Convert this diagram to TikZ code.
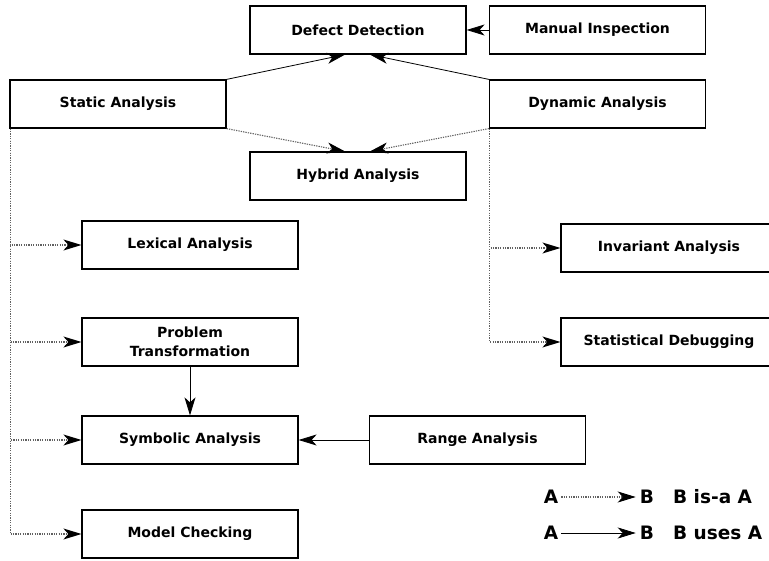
\documentclass[tikz,border=0pt]{standalone}
\usepackage{fontspec}
\setmainfont{DejaVu Sans}
\usetikzlibrary{arrows.meta}
\begin{document}
\begin{tikzpicture}[x=1pt,y=-1pt,
  box/.style={draw,line width=1.2pt,minimum width=216pt,minimum height=48pt,inner sep=0pt,font=\fontsize{14}{19}\selectfont\bfseries,align=center},
  tip/.style={-{Stealth[length=18pt,width=11pt,inset=5pt]}},
  uses/.style={tip,line width=0.8pt},
  isa/.style={line width=1.1pt,dash pattern=on 1.3pt off 1.1pt,draw=black!62,-{Stealth[length=18pt,width=11pt,inset=5pt,black]}},
  lg/.style={font=\fontsize{18.5}{21}\selectfont\bfseries,inner sep=0pt}]
\useasboundingbox (0,0) rectangle (769,561);
\node[box] (dd) at (358,30) {Defect Detection};
\node[box] (mi) at (597.5,30) {Manual Inspection};
\node[box] (sa) at (118,104) {Static Analysis};
\node[box] (da) at (597.5,104) {Dynamic Analysis};
\node[box] (ha) at (358,176) {Hybrid Analysis};
\node[box] (la) at (190,245) {Lexical Analysis};
\node[box] (ia) at (669,248) {Invariant Analysis};
\node[box] (pt) at (190,342) {Problem\\Transformation};
\node[box] (sd) at (669,342) {Statistical Debugging};
\node[box] (sy) at (190,440) {Symbolic Analysis};
\node[box] (ra) at (477.5,440) {Range Analysis};
\node[box] (mc) at (190,534) {Model Checking};
% uses
\draw[uses] (mi) -- (dd);
\draw[uses] (sa.north east) -- ([xshift=-13pt]dd.south);
\draw[uses] (da.north west) -- ([xshift=12pt]dd.south);
\draw[uses] (pt) -- (sy);
\draw[uses] (ra) -- (sy);
% is-a
\draw[isa] (sa.south east) -- ([xshift=-13pt]ha.north);
\draw[isa] (da.south west) -- ([xshift=12pt]ha.north);
\coordinate (st) at ([xshift=1pt]sa.south west);
\coordinate (dt) at ([xshift=1pt]da.south west);
\draw[isa] (st) |- (la.west);
\draw[isa] (st) |- (pt.west);
\draw[isa] (st) |- (sy.west);
\draw[isa] (st) |- (mc.west);
\draw[isa] (dt) |- (ia.west);
\draw[isa] (dt) |- (sd.west);
% legend
\node[lg] (a1) at (551,497) {A};
\node[lg] (b1) at (647,497) {B};
\node[lg,anchor=west] (t1) at (673,497) {B is-a A};
\node[lg] (a2) at (551,533) {A};
\node[lg] (b2) at (647,533) {B};
\node[lg,anchor=west] (t2) at (673,533) {B uses A};
\draw[isa] ([xshift=3pt]a1.east) -- ([xshift=-4pt]b1.west);
\draw[uses] ([xshift=3pt]a2.east) -- ([xshift=-4pt]b2.west);
\end{tikzpicture}
\end{document}
